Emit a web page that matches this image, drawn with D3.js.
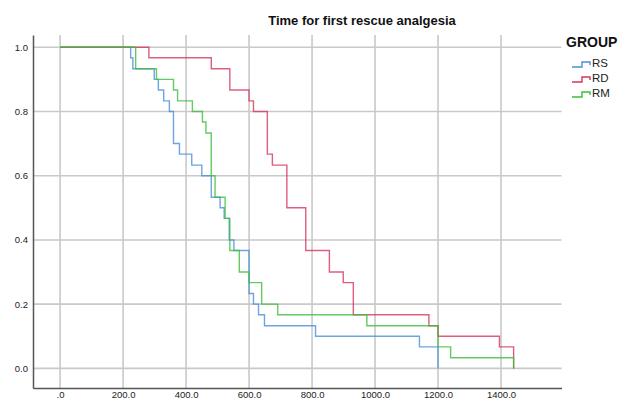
<!DOCTYPE html>
<html>
<head>
<meta charset="utf-8">
<script src="https://cdn.jsdelivr.net/npm/d3@7"></script>
<style>
  body { margin: 0; background: #fff; }
  svg { display: block; font-family: 'Liberation Sans', Arial, sans-serif; }
</style>
</head>
<body>
<svg width="619" height="402"></svg>
<script>
const width = 619
const height = 402

const groups = ['RS', 'RD', 'RM']
const groupColors = ['#4a8fd8', '#d4365c', '#3dbd3d']

// Kaplan-Meier steps (time, survival)
const rsTime = [0, 224, 231, 299, 312, 329, 347, 360, 379, 418, 450, 480, 508, 521, 537, 552, 600, 614, 630, 649, 811, 1141, 1200]
const rsSurv = [1, 0.967, 0.933, 0.9, 0.867, 0.833, 0.8, 0.7, 0.667, 0.633, 0.6, 0.533, 0.5, 0.467, 0.4, 0.367, 0.233, 0.2, 0.167, 0.133, 0.1, 0.067, 0]

const rdTime = [0, 282, 480, 539, 600, 614, 658, 674, 720, 780, 855, 899, 931, 1171, 1200, 1395, 1440]
const rdSurv = [1, 0.967, 0.933, 0.867, 0.833, 0.8, 0.667, 0.633, 0.5, 0.367, 0.3, 0.267, 0.167, 0.133, 0.1, 0.067, 0]

const rmTime = [0, 240, 306, 360, 373, 420, 452, 463, 480, 492, 524, 539, 569, 600, 640, 691, 974, 1200, 1240, 1440]
const rmSurv = [1, 0.933, 0.9, 0.867, 0.833, 0.8, 0.767, 0.733, 0.6, 0.533, 0.467, 0.367, 0.3, 0.267, 0.2, 0.167, 0.133, 0.067, 0.033, 0]

const xTicks = [0, 200, 400, 600, 800, 1000, 1200, 1400]
const yTicks = [0, 0.2, 0.4, 0.6, 0.8, 1.0]

const series = [
  { name: groups[0], time: rsTime, surv: rsSurv, color: groupColors[0] },
  { name: groups[1], time: rdTime, surv: rdSurv, color: groupColors[1] },
  { name: groups[2], time: rmTime, surv: rmSurv, color: groupColors[2] }
]

const svg = d3.select('svg')

const xScale = d3.scaleLinear()
  .domain([-86, 1592])
  .range([33, 561.5])

const yScale = d3.scaleLinear()
  .domain([-0.061, 1.038])
  .range([388, 35])

// grid
svg.append('g')
  .selectAll('line')
  .data(xTicks)
  .enter().append('line')
  .attr('x1', d => xScale(d))
  .attr('x2', d => xScale(d))
  .attr('y1', yScale.range()[1])
  .attr('y2', yScale.range()[0])
  .attr('stroke', '#c9c9c9')
  .attr('stroke-width', 1.6)

svg.append('g')
  .selectAll('line')
  .data(yTicks)
  .enter().append('line')
  .attr('x1', xScale.range()[0])
  .attr('x2', xScale.range()[1])
  .attr('y1', d => yScale(d))
  .attr('y2', d => yScale(d))
  .attr('stroke', '#c9c9c9')
  .attr('stroke-width', 1.6)

// axes
const xAxis = d3.axisBottom(xScale)
  .tickValues(xTicks)
  .tickSize(0)
  .tickPadding(3)
  .tickFormat(d => d === 0 ? '.0' : d3.format('.1f')(d))

const yAxis = d3.axisLeft(yScale)
  .tickValues(yTicks)
  .tickSize(0)
  .tickPadding(5)
  .tickFormat(d3.format('.1f'))

svg.append('g')
  .attr('transform', `translate(0, ${yScale.range()[0]})`)
  .call(xAxis)

svg.append('g')
  .attr('transform', `translate(${xScale.range()[0]}, 0)`)
  .call(yAxis)

svg.selectAll('.domain')
  .attr('stroke', '#555')
  .attr('stroke-width', 1.5)

svg.selectAll('.tick text')
  .attr('fill', '#222')
  .style('font-size', '9.5px')
  .style('font-family', "'Liberation Sans', Arial, sans-serif")

// curves
const line = d3.line()
  .x(d => xScale(d[0]))
  .y(d => yScale(d[1]))
  .curve(d3.curveStepAfter)

svg.append('g')
  .selectAll('path')
  .data(series)
  .enter().append('path')
  .attr('d', d => line(d.time.map((t, i) => [t, d.surv[i]])))
  .attr('fill', 'none')
  .attr('stroke', d => d.color)
  .attr('stroke-width', 1.4)
  .attr('stroke-opacity', 0.8)

// title
svg.append('text')
  .attr('x', 362)
  .attr('y', 25)
  .attr('text-anchor', 'middle')
  .style('font-size', '13px')
  .style('font-weight', 'bold')
  .attr('fill', '#111')
  .text('Time for first rescue analgesia')

// legend
const legend = svg.append('g')

legend.append('text')
  .attr('x', 566)
  .attr('y', 47)
  .style('font-size', '14px')
  .style('font-weight', 'bold')
  .attr('fill', '#111')
  .text('GROUP')

const item = legend.selectAll('.item')
  .data(series)
  .enter().append('g')
  .attr('class', 'item')
  .attr('transform', (d, i) => `translate(0, ${67 + i * 15})`)

item.append('path')
  .attr('d', 'M572,0 H582 V-5 H590 V-2')
  .attr('fill', 'none')
  .attr('stroke', d => d.color)
  .attr('stroke-width', 1.4)

item.append('text')
  .attr('x', 592)
  .attr('y', 0)
  .style('font-size', '11.5px')
  .attr('fill', '#222')
  .text(d => d.name)
</script>
</body>
</html>
